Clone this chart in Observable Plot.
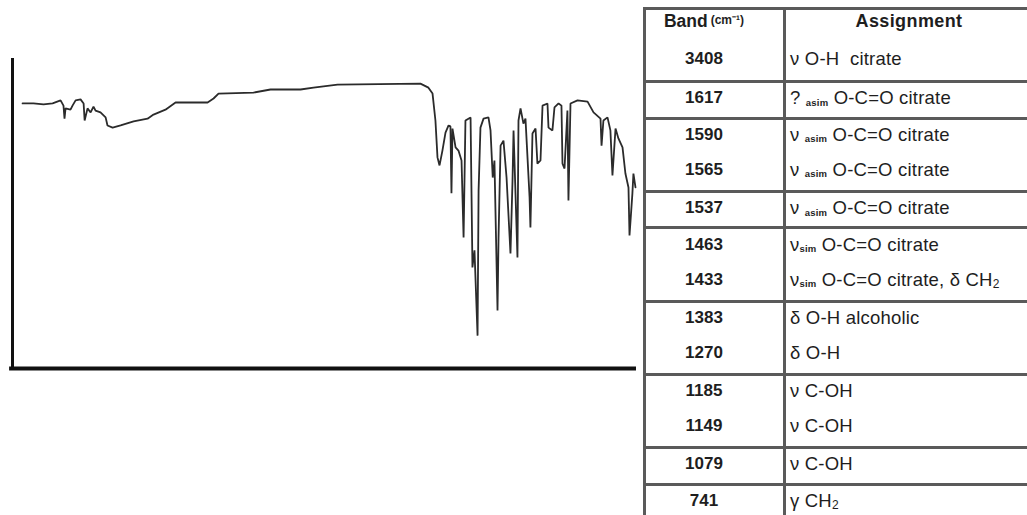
<!DOCTYPE html>
<html>
<head>
<meta charset="utf-8">
<script src="https://cdn.jsdelivr.net/npm/d3@7"></script>
<script src="https://cdn.jsdelivr.net/npm/@observablehq/plot@0.6"></script>
<style>
  html, body { margin: 0; padding: 0; background: #fff; overflow: hidden; width: 1027px; height: 515px; }
  #chart { position: absolute; left: 0; top: 0; }
  .tbl { position: absolute; left: 643px; top: 7px; width: 400px; border-top: 3px solid #5a5a5a; border-left: 3px solid #5a5a5a;
         font-family: "Liberation Sans", Arial, sans-serif; color: #1e1e1e; }
  .row { display: flex; height: 36.6px; box-sizing: border-box; }
  .row.hdr { height: 30px; }
  .row.first { height: 40px; }
  .row.sep { border-top: 3px solid #5a5a5a; }
  .c1 { width: 140px; box-sizing: border-box; border-right: 3px solid #5a5a5a; display: flex; align-items: center; justify-content: center;
        padding-right: 21px; font-weight: bold; font-size: 17px; padding-bottom: 3px; }
  .c2 { flex: 1; display: flex; align-items: center; padding-left: 4px; font-size: 18.5px; letter-spacing: 0.2px; padding-bottom: 3px; white-space: pre; }
  .hdr .c1 { font-size: 17.5px; align-items: flex-start; padding-top: 1px; }
  .hdr .c2 { font-weight: bold; justify-content: center; padding-right: 14px; font-size: 18px; letter-spacing: 0.4px; align-items: flex-start; padding-left: 0; padding-top: 1px; }
  .unit { font-size: 12px; margin-left: 3px; }
  .sub { font-size: 9.5px; font-weight: bold; position: relative; top: 4px; }
  .sub2 { font-size: 12px; position: relative; top: 4px; }
</style>
</head>
<body>
<div id="chart"></div>
<div class="tbl" id="tbl"></div>
<script>
// ---- Spectrum (wavenumber, cm-1  vs  transmittance, %) ----
const wavenumber = [4000,3936,3877,3824,3777,3760,3754,3748,3719,3707,3689,3660,3642,3636,3619,3601,3584,3572,3543,3513,
  3502,3472,3425,3349,3267,3232,3162,3103,2915,2880,2851,2646,2546,2370,2294,2153,1667,1620,1596,1579,
  1567,1555,1538,1520,1502,1491,1485,1479,1461,1444,1426,1414,1403,1373,1362,1350,1332,1326,1315,1297,
  1268,1256,1243,1233,1215,1209,1197,1180,1162,1139,1127,1121,1098,1092,1080,1063,1051,1027,1022,1010,
  992,981,963,951,922,916,893,881,857,840,834,822,805,799,787,746,687,652,611,605,
  594,570,553,541,523,506,482,465,447,441,424,418,406];
const transmittance = [85.5,85.5,85.2,85.5,86.5,84.8,80.6,83.9,83.5,84.8,86.5,86.8,85.5,80.0,83.9,82.6,84.5,83.2,82.6,81.0,
  78.4,77.7,78.4,79.7,80.6,81.9,83.5,85.8,85.8,87.1,88.7,89.0,90.0,90.0,90.6,91.6,91.9,90.6,88.7,80.0,
  68.1,65.5,70.3,76.1,78.4,78.1,56.5,77.4,71.3,70.3,67.1,42.3,80.0,81.0,32.6,38.1,10.6,57.4,77.7,80.6,
  81.0,76.8,61.6,67.1,18.7,42.3,71.9,73.5,61.6,37.1,60.6,76.8,35.8,80.0,83.9,79.0,80.6,55.2,45.5,75.8,
  77.4,66.1,67.1,84.8,85.5,77.7,76.8,84.2,85.5,84.8,66.1,64.5,83.2,54.2,85.5,86.5,86.1,82.6,80.6,71.9,
  80.0,81.0,76.8,62.3,77.4,74.2,71.3,62.9,58.4,42.9,56.5,62.9,58.4];

// ---- Table ----
const bands = ["3408","1617","1590","1565","1537","1463","1433","1383","1270","1185","1149","1079","741"];
const symbols = ["ν","?","ν","ν","ν","ν","ν","δ","δ","ν","ν","ν","γ"];
const subs = ["","asim","asim","asim","asim","sim","sim","","","","","",""];
const labels = ["O-H  citrate","O-C=O citrate","O-C=O citrate","O-C=O citrate","O-C=O citrate","O-C=O citrate",
  "O-C=O citrate, δ CH|2","O-H alcoholic","O-H","C-OH","C-OH","C-OH","CH|2"];
const groups = [0,1,2,2,3,4,4,5,5,6,6,7,8];
const headerBand = "Band";
const headerUnit = "(cm⁻¹)";
const headerAssign = "Assignment";

const data = wavenumber.map((w, i) => ({w, t: transmittance[i]}));

const plot = Plot.plot({
  width: 640,
  height: 515,
  marginLeft: 12,
  marginRight: 4,
  marginTop: 58,
  marginBottom: 147,
  x: {domain: [4059, 400], axis: null},
  y: {domain: [0, 100], axis: null},
  marks: [
    Plot.line(data, {x: "w", y: "t", stroke: "#2b2b2b", strokeWidth: 1.8, strokeLinejoin: "miter"}),
    Plot.ruleX([4059], {y1: 0, y2: 100, stroke: "#111", strokeWidth: 3}),
    Plot.ruleY([0], {x1: 4076, x2: 400, stroke: "#111", strokeWidth: 4})
  ]
});
document.getElementById("chart").appendChild(plot);

// build table
const tbl = document.getElementById("tbl");
function fmtLabel(s) {
  return s.split("|").map((p, i) => i === 0 ? p : `<span class="sub2">${p[0]}</span>${p.slice(1)}`).join("");
}
let html = `<div class="row hdr"><div class="c1">${headerBand}<span class="unit">${headerUnit}</span></div><div class="c2">${headerAssign}</div></div>`;
bands.forEach((b, i) => {
  const sep = i > 0 && groups[i] !== groups[i - 1] ? " sep" : "";
  const first = i === 0 ? " first" : "";
  let a;
  if (subs[i] === "") a = `${symbols[i]} ${fmtLabel(labels[i])}`;
  else if (subs[i] === "sim") a = `${symbols[i]}<span class="sub">${subs[i]}</span> ${fmtLabel(labels[i])}`;
  else a = `${symbols[i]} <span class="sub">${subs[i]}</span> ${fmtLabel(labels[i])}`;
  html += `<div class="row${sep}${first}"><div class="c1">${b}</div><div class="c2">${a}</div></div>`;
});
tbl.innerHTML = html;
</script>
</body>
</html>
